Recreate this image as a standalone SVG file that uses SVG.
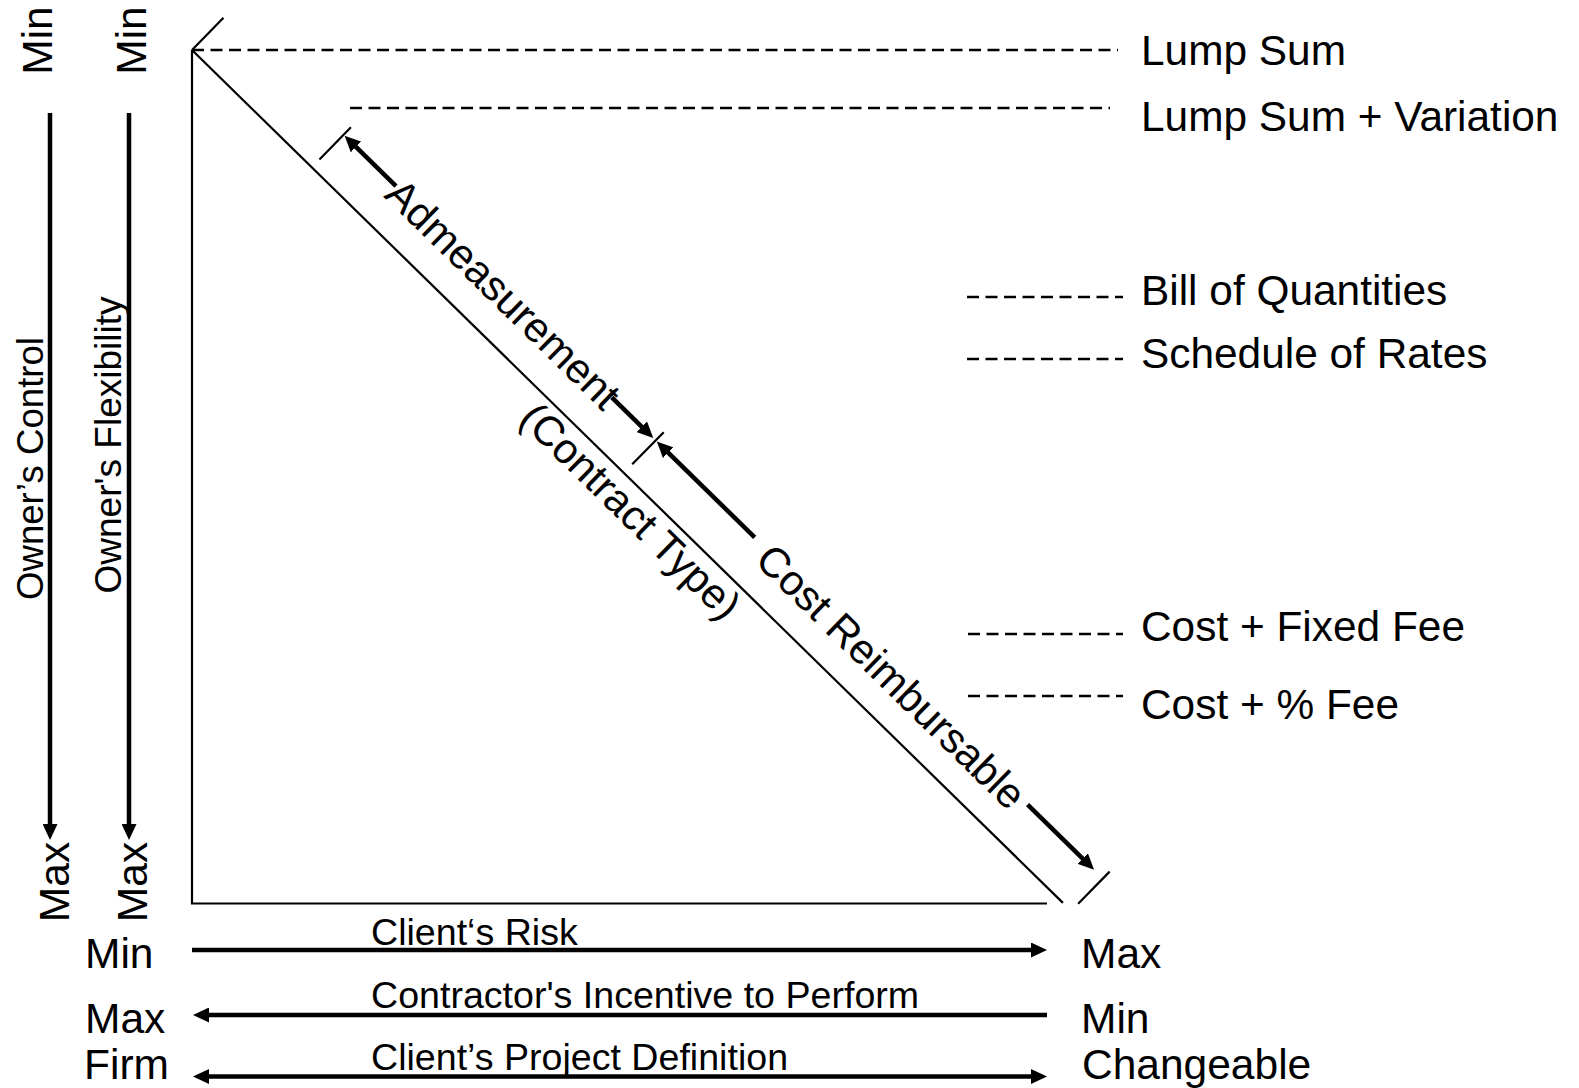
<svg xmlns="http://www.w3.org/2000/svg" width="1579" height="1088" viewBox="0 0 1579 1088">
<style>
text{font-family:"Liberation Sans",Arial,Helvetica,sans-serif;fill:#000}
.lbl{font-size:42.4px}
.end-lbl{font-size:42.5px}
.axl{font-size:37.6px}
.vl{font-size:36.6px}
.diag{font-size:42px}
.mid{text-anchor:middle}
.thin{stroke:#000;stroke-width:2.2;fill:none}
.dash{stroke:#000;stroke-width:2.5;stroke-dasharray:12 6.5;fill:none}
.arr{stroke:#000;stroke-width:4.5;fill:none}
.end{marker-end:url(#ah)}
.both{marker-start:url(#ah);marker-end:url(#ah)}
</style>
<defs>
<marker id="ah" markerUnits="userSpaceOnUse" markerWidth="16" markerHeight="15" refX="4" refY="7.5" orient="auto-start-reverse"><path d="M0,0 L16,7.5 L0,15 z" fill="#000"/></marker>
</defs>
<rect width="1579" height="1088" fill="#fff"/>

<g id="frame">
<path class="thin" d="M192,50 V903.5 H1047"/>
</g>

<g id="connectors">
<path class="arr end" d="M50,113 V828"/>
<path class="arr end" d="M129,113 V828"/>
<path class="arr end" d="M192,950 H1035"/>
<path class="arr end" d="M1047,1015 H205"/>
<path class="arr both" d="M205,1076.5 H1035"/>
<path class="dash" d="M192,50 H1118"/>
<path class="dash" d="M350,108 H1110"/>
<path class="dash" d="M967,297 H1123"/>
<path class="dash" d="M967,359 H1123"/>
<path class="dash" d="M968,634 H1123"/>
<path class="dash" d="M968,696 H1123"/>
</g>

<g id="contract-type-scale" transform="translate(192,50) rotate(44.4)">
<path class="thin" d="M0,0 H1219"/>
<path class="thin" d="M0,0 V-45 M167.6,-11 V-56 M604.4,-12 V-57 M1230.5,-10 V-55"/>
<path class="arr end" d="M241,-45.5 H181"/>
<path class="arr end" d="M543,-45.5 H589"/>
<path class="arr end" d="M743,-45.5 H618"/>
<path class="arr end" d="M1125,-45.5 H1206"/>
<text class="diag mid" x="393" y="-29">Admeasurement</text>
<text class="diag mid" x="938" y="-27">Cost Reimbursable</text>
<text class="diag mid" x="636" y="37">(Contract Type)</text>
</g>

<g id="owner-control">
<text class="end-lbl mid" transform="translate(52,40.5) rotate(-90)">Min</text>
<text class="vl mid" transform="translate(43,468.5) rotate(-90)">Owner’s Control</text>
<text class="end-lbl mid" transform="translate(69,882) rotate(-90)">Max</text>
</g>
<g id="owner-flexibility">
<text class="end-lbl mid" transform="translate(146,40.5) rotate(-90)">Min</text>
<text class="vl mid" style="font-size:37px" transform="translate(121,445) rotate(-90)">Owner's Flexibility</text>
<text class="end-lbl mid" transform="translate(147,882) rotate(-90)">Max</text>
</g>

<g id="right-labels">
<text class="lbl" x="1141" y="65">Lump Sum</text>
<text class="lbl" x="1141" y="131">Lump Sum + Variation</text>
<text class="lbl" x="1141" y="305">Bill of Quantities</text>
<text class="lbl" x="1141" y="368">Schedule of Rates</text>
<text class="lbl" x="1141" y="641">Cost + Fixed Fee</text>
<text class="lbl" x="1141" y="719">Cost + % Fee</text>
</g>

<g id="client-risk">
<text class="end-lbl" x="85" y="968">Min</text>
<text class="axl" x="371" y="945">Client‘s Risk</text>
<text class="end-lbl" x="1081" y="968">Max</text>
</g>
<g id="contractor-incentive">
<text class="end-lbl" x="85" y="1033">Max</text>
<text class="axl" x="371" y="1008">Contractor's Incentive to Perform</text>
<text class="end-lbl" x="1081" y="1033">Min</text>
</g>
<g id="project-definition">
<text class="end-lbl" x="84" y="1079">Firm</text>
<text class="axl" x="371" y="1070">Client’s Project Definition</text>
<text class="end-lbl" x="1082" y="1079">Changeable</text>
</g>
</svg>
